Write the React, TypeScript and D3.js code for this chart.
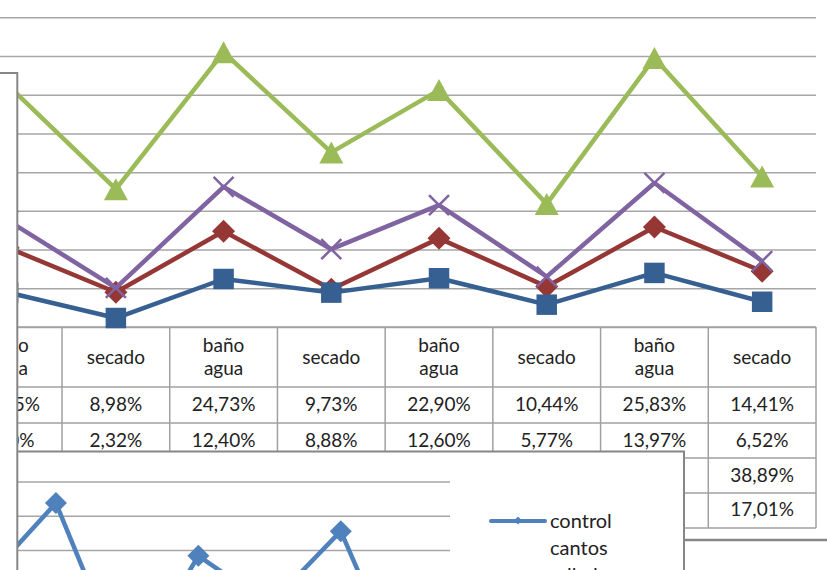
import React, { useRef, useEffect } from 'react';
import * as d3 from 'd3';

// visible columns of the data table (the chart is cropped on the left)
const categories = ['baño agua', 'secado', 'baño agua', 'secado', 'baño agua', 'secado', 'baño agua', 'secado'];
const rowRed = [20.45, 8.98, 24.73, 9.73, 22.9, 10.44, 25.83, 14.41];
const rowBlue = [8.9, 2.32, 12.4, 8.88, 12.6, 5.77, 13.97, 6.52];
const rowGreen = [62.4, 35.6, 71.0, 45.1, 61.2, 31.8, 69.5, 38.89];
const rowPurple = [27.5, 10.1, 36.2, 20.1, 31.5, 13.0, 37.2, 17.01];
const yTicks = [0, 10, 20, 30, 40, 50, 60, 70, 80];

// second chart, overlapping at the bottom
const lowerCategories = ['a', 'b', 'c', 'd', 'e', 'f', 'g'];
const lowerValues = [40.9, 63.7, 13.1, 48.3, 34.0, 55.5, 7.5];
const lowerTicks = [50, 60, 70];
const legendLabels = ['control', 'cantos', 'rallados'];

const W = 827;
const H = 570;
const FONT = 'Lato, "Open Sans", sans-serif';

const fmt = (v: number) => d3.format('.2f')(v).replace('.', ',') + '%';

// excel-like markers (square diamond, flat triangle)
const diamond = (r: number) => `M0,${-r}L${r},0L0,${r}L${-r},0Z`;
const triangle = (w: number, h: number) => `M0,${-h / 2}L${w / 2},${h / 2}L${-w / 2},${h / 2}Z`;

const App: React.FC = () => {
  const svgRef = useRef<SVGSVGElement | null>(null);

  useEffect(() => {
    if (!svgRef.current) return;
    const svg = d3.select(svgRef.current);
    svg.selectAll('*').remove();

    const gridColor = '#a6a6a6';
    const tableColor = '#a0a0a0';
    const borderColor = '#868686';
    const coverRight = 684;

    const x = d3.scaleBand<number>()
      .domain(categories.map((_, i) => i))
      .range([-45.7, 816])
      .padding(0);
    const cx = (i: number) => (x(i) as number) + x.bandwidth() / 2;

    const y = d3.scaleLinear().domain([0, 80]).range([327, 17.3]);

    // gridlines
    svg.append('g')
      .attr('transform', 'translate(816,0)')
      .call(d3.axisLeft(y).tickValues(yTicks).tickSize(816 + 46).tickFormat(() => ''))
      .call(g => g.select('.domain').remove())
      .call(g => g.selectAll('line').attr('stroke', gridColor).attr('stroke-width', 1.5));

    // data table
    const rowEdges = [327, 387, 423, 458, 493, 528];
    const table = svg.append('g');
    rowEdges.forEach(ry => {
      table.append('line')
        .attr('x1', -46).attr('x2', 816).attr('y1', ry).attr('y2', ry)
        .attr('stroke', tableColor).attr('stroke-width', 1.5);
    });
    categories.forEach((_, i) => {
      const xr = (x(i) as number) + x.bandwidth();
      table.append('line')
        .attr('x1', xr).attr('x2', xr).attr('y1', 327).attr('y2', 528)
        .attr('stroke', tableColor).attr('stroke-width', 1.5);
    });
    categories.forEach((c, i) => {
      const words = c.split(' ');
      const t = table.append('text')
        .attr('x', cx(i))
        .attr('text-anchor', 'middle')
        .attr('font-family', FONT)
        .attr('font-size', 19)
        .attr('fill', '#222');
      if (words.length === 1) {
        t.attr('y', 364).text(c);
      } else {
        t.append('tspan').attr('x', cx(i)).attr('y', 352).text(words[0]);
        t.append('tspan').attr('x', cx(i)).attr('y', 375).text(words[1]);
      }
    });
    const rows = [rowRed, rowBlue, rowGreen, rowPurple];
    const baselines = [411, 446.5, 481.5, 516];
    rows.forEach((row, r) => {
      row.forEach((v, i) => {
        // rows 3 and 4 lie under the overlapping chart except in the last column
        if (r >= 2 && (x(i) as number) + x.bandwidth() <= coverRight + 30) return;
        table.append('text')
          .attr('x', cx(i)).attr('y', baselines[r])
          .attr('text-anchor', 'middle')
          .attr('font-family', FONT)
          .attr('font-size', 19)
          .attr('fill', '#222')
          .text(fmt(v));
      });
    });

    // series
    const line = d3.line<number>().x((_, i) => cx(i)).y(d => y(d));
    const series = [
      { data: rowRed, color: '#953735', marker: 'diamond' },
      { data: rowBlue, color: '#376092', marker: 'square' },
      { data: rowGreen, color: '#9bbb59', marker: 'triangle' },
      { data: rowPurple, color: '#8064a2', marker: 'x' },
    ];
    series.forEach(s => {
      const g = svg.append('g');
      g.append('path')
        .datum(s.data)
        .attr('fill', 'none')
        .attr('stroke', s.color)
        .attr('stroke-width', 4.5)
        .attr('stroke-linejoin', 'round')
        .attr('d', line);
      s.data.forEach((v, i) => {
        const px = cx(i);
        const py = y(v);
        if (s.marker === 'x') {
          g.append('path')
            .attr('d', `M${px - 10},${py - 10}L${px + 10},${py + 10}M${px - 10},${py + 10}L${px + 10},${py - 10}`)
            .attr('stroke', s.color).attr('stroke-width', 2.5).attr('fill', 'none');
        } else {
          const d = s.marker === 'diamond' ? diamond(11.5)
            : s.marker === 'square' ? d3.symbol().type(d3.symbolSquare).size(420)()
            : triangle(24, 22);
          g.append('path')
            .attr('transform', `translate(${px},${py})`)
            .attr('d', d)
            .attr('fill', s.color);
        }
      });
    });

    // lower overlapping chart
    const lower = svg.append('g');
    lower.append('rect')
      .attr('x', 17).attr('y', 451.5).attr('width', coverRight - 17).attr('height', 130)
      .attr('fill', '#fff').attr('stroke', borderColor).attr('stroke-width', 2);
    const ly = d3.scaleLinear().domain([50, 70]).range([550, 481.5]);
    const lx = d3.scalePoint<string>().domain(lowerCategories).range([-15.3, 412]);
    lower.append('g')
      .attr('transform', 'translate(450,0)')
      .call(d3.axisLeft(ly).tickValues(lowerTicks).tickSize(432).tickFormat(() => ''))
      .call(g => g.select('.domain').remove())
      .call(g => g.selectAll('line').attr('stroke', gridColor).attr('stroke-width', 1.5));
    svg.append('clipPath').attr('id', 'lowerClip')
      .append('rect').attr('x', 18).attr('y', 453).attr('width', coverRight - 19).attr('height', 120);
    const lowerLine = d3.line<number>()
      .x((_, i) => lx(lowerCategories[i]) as number)
      .y(d => ly(d));
    const lg = lower.append('g').attr('clip-path', 'url(#lowerClip)');
    lg.append('path')
      .datum(lowerValues)
      .attr('fill', 'none')
      .attr('stroke', '#4f81bd')
      .attr('stroke-width', 4.5)
      .attr('stroke-linejoin', 'round')
      .attr('d', lowerLine);
    lowerValues.forEach((v, i) => {
      lg.append('path')
        .attr('transform', `translate(${lx(lowerCategories[i])},${ly(v)})`)
        .attr('d', diamond(11))
        .attr('fill', '#4f81bd');
    });
    // legend
    const leg = lower.append('g').attr('clip-path', 'url(#lowerClip)');
    leg.append('line')
      .attr('x1', 491).attr('x2', 545).attr('y1', 521).attr('y2', 521)
      .attr('stroke', '#4f81bd').attr('stroke-width', 4).attr('stroke-linecap', 'round');
    leg.append('path')
      .attr('transform', 'translate(518,520.5)')
      .attr('d', diamond(4))
      .attr('fill', '#4f81bd');
    legendLabels.forEach((lab, i) => {
      leg.append('text')
        .attr('x', 550).attr('y', 528 + i * 27)
        .attr('font-family', FONT)
        .attr('font-size', 20)
        .attr('fill', '#222')
        .text(lab);
    });

    // border of the object below, on the right
    svg.append('line')
      .attr('x1', coverRight).attr('x2', W).attr('y1', 540).attr('y2', 540)
      .attr('stroke', borderColor).attr('stroke-width', 2.5);

    // object covering the left edge
    svg.append('rect')
      .attr('x', -10).attr('y', 73).attr('width', 27.3).attr('height', H)
      .attr('fill', '#fff').attr('stroke', borderColor).attr('stroke-width', 2);
  }, []);

  return (
    <svg
      ref={svgRef}
      width={W}
      height={H}
      style={{ position: 'absolute', left: 0, top: 0, display: 'block', background: '#fff' }}
    />
  );
};

export default App;
